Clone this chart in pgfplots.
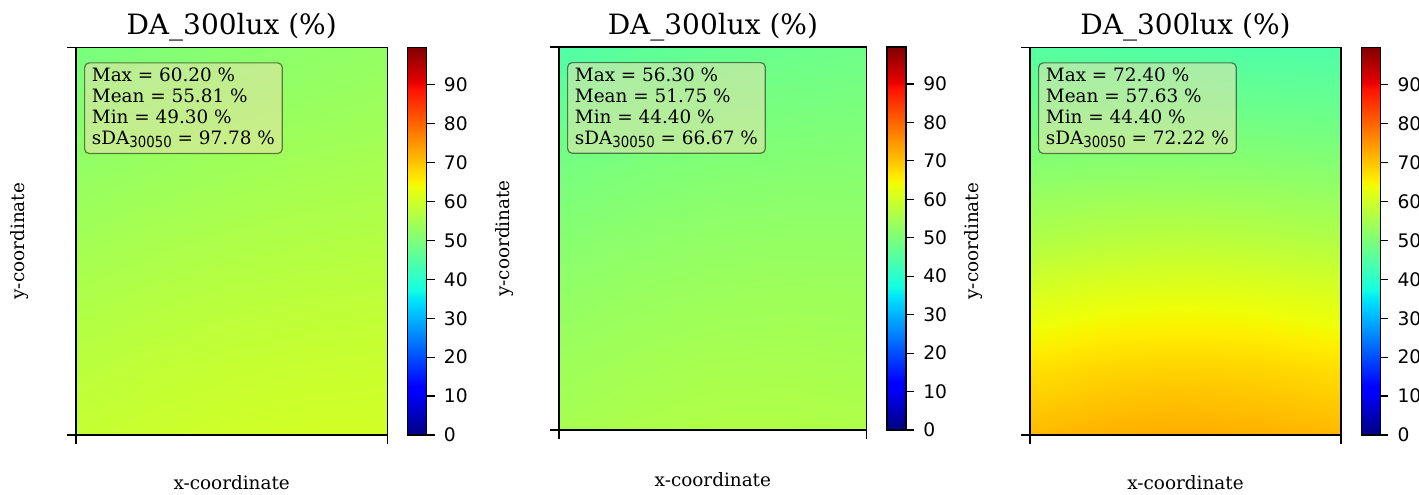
\documentclass[border=0pt]{standalone}
\usepackage{fontspec}
\setmainfont{DejaVu Serif}
\newfontfamily\dsans{DejaVu Sans}
\newfontfamily\dsub[FakeStretch=0.87]{DejaVu Sans}
\usepackage{pgfplots}
\pgfplotsset{compat=1.18}
\definecolor{wheat}{RGB}{245,222,179}

\pgfplotsset{
  colormap={mjet}{rgb(0pt)=(0,0,0.5) rgb(11pt)=(0,0,1) rgb(12.5pt)=(0,0,1) rgb(34pt)=(0,0.86,1) rgb(35pt)=(0,0.9,0.968) rgb(37.5pt)=(0.0806,1,0.887) rgb(64pt)=(0.935,1,0.032) rgb(65pt)=(0.968,0.963,0) rgb(66pt)=(1,0.926,0) rgb(89pt)=(1,0.074,0) rgb(91pt)=(0.909,0,0) rgb(100pt)=(0.5,0,0)},
  every axis title shift=0pt,
  hm/.style n args={5}{
    scale only axis, width=#1, height=#2,
    xmin=0, xmax=4, ymin=0, ymax=6,
    xtick={0,4}, ytick={0,6}, xticklabels={}, yticklabels={},
    tick align=outside, tick pos=left, major tick length=6.5pt,
    every tick/.style={black, line width=0.9pt},
    axis line style={line width=0.9pt},
    colormap name=mjet, point meta min=0, point meta max=99.6,
    axis on top,
    title={DA\_300lux (\%)},
    title style={at={(axis description cs:0.5,#5)}, anchor=base, font=\fontsize{21}{25}\selectfont},
    xlabel={x-coordinate}, ylabel={y-coordinate},
    label style={font=\fontsize{13.8}{16}\selectfont},
    xlabel style={at={(axis description cs:0.5,#4)}, anchor=center},
    ylabel style={at={(axis description cs:#3,0.5)}, anchor=center},
    colorbar,
    colorbar style={
      at={(parent axis.north east)}, anchor=north west, xshift=6.6pt,
      scale only axis, width=14.25pt, height=#2,
      ytick={0,10,...,90}, ytick pos=right, yticklabel pos=right,
      tick align=outside, major tick length=6pt,
      every tick/.style={black, line width=0.9pt},
      axis line style={line width=0.9pt},
      /pgf/number format/assume math mode=true,
      yticklabel style={font=\dsans\fontsize{14}{16}\selectfont, xshift=3.5pt},
    },
  },
}
\tikzset{
  mybox/.style={anchor=north west, fill=wheat, fill opacity=0.5, draw=black, draw opacity=0.5,
    text opacity=1, rounded corners=3.5pt, line width=0.9pt, inner xsep=5.5pt, inner ysep=4pt,
    align=left, font=\fontsize{13.8}{15.7}\selectfont, xshift=6pt, yshift=-11.25pt},
}
\newcommand{\sub}[1]{{\dsub\fontsize{11.5}{13}\selectfont\raisebox{-2.5pt}{#1}}}

\begin{document}
\begin{tikzpicture}[x=1pt,y=1pt]
\fill[white] (0,0) rectangle (1064.25,370.5);

% Panel 1
\begin{axis}[hm={233.5pt}{290.8pt}{-0.18}{-0.124}{1.0317}, at={(57pt,44.25pt)}, anchor=south west]
\addplot[surf, shader=interp, mesh/cols=5, point meta=\thisrow{z}] table[x=x,y=y] {
x y z
0 0 58.6
1 0 59.4
2 0 59.9
3 0 60.2
4 0 60.2
0 1 57.4
1 1 58.2
2 1 58.8
3 1 59.1
4 1 59.3
0 2 56.0
1 2 56.8
2 2 57.4
3 2 57.8
4 2 58.0
0 3 54.5
1 3 55.3
2 3 55.9
3 3 56.3
4 3 56.6
0 4 52.9
1 4 53.7
2 4 54.4
3 4 54.9
4 4 55.3
0 5 51.2
1 5 52.1
2 5 52.8
3 5 53.4
4 5 53.9
0 6 49.3
1 6 50.4
2 6 51.3
3 6 52.1
4 6 52.7
};
\node[mybox] at (rel axis cs:0,1) {Max = 60.20 \%\\Mean = 55.81 \%\\Min = 49.30 \%\\sDA\sub{30050} = 97.78 \%};
\end{axis}

% Panel 2
\begin{axis}[hm={230.8pt}{287.25pt}{-0.1755}{-0.1305}{1.033}, at={(419.25pt,48pt)}, anchor=south west]
\addplot[surf, shader=interp, mesh/cols=5, point meta=\thisrow{z}] table[x=x,y=y] {
x y z
0 0 55.0
1 0 55.8
2 0 56.3
3 0 56.3
4 0 56.0
0 1 53.9
1 1 54.7
2 1 55.2
3 1 55.3
4 1 55.1
0 2 52.6
1 2 53.4
2 2 53.9
3 2 54.1
4 2 54.0
0 3 51.1
1 3 51.9
2 3 52.5
3 3 52.7
4 3 52.7
0 4 49.4
1 4 50.3
2 4 50.9
3 4 51.2
4 4 51.3
0 5 47.3
1 5 48.4
2 5 49.1
3 5 49.6
4 5 49.8
0 6 44.4
1 6 46.0
2 6 47.1
3 6 47.8
4 6 48.2
};
\node[mybox] at (rel axis cs:0,1) {Max = 56.30 \%\\Mean = 51.75 \%\\Min = 44.40 \%\\sDA\sub{30050} = 66.67 \%};
\end{axis}

% Panel 3
\begin{axis}[hm={233.25pt}{290.8pt}{-0.183}{-0.124}{1.0317}, at={(772.5pt,44.25pt)}, anchor=south west]
\addplot[surf, shader=interp, mesh/cols=5, point meta=\thisrow{z}] table[x=x,y=y] {
x y z
0 0 71.0
1 0 72.0
2 0 72.4
3 0 72.0
4 0 71.2
0 1 67.0
1 1 68.2
2 1 68.6
3 1 68.2
4 1 67.2
0 2 62.0
1 2 63.2
2 2 63.6
3 2 63.2
4 2 62.2
0 3 56.2
1 3 57.2
2 3 57.6
3 3 57.2
4 3 56.4
0 4 51.8
1 4 52.3
2 4 52.4
3 4 52.2
4 4 51.8
0 5 48.2
1 5 48.3
2 5 48.2
3 5 48.0
4 5 47.8
0 6 45.2
1 6 45.0
2 6 44.8
3 6 44.5
4 6 44.4
};
\node[mybox] at (rel axis cs:0,1) {Max = 72.40 \%\\Mean = 57.63 \%\\Min = 44.40 \%\\sDA\sub{30050} = 72.22 \%};
\end{axis}

\pgfresetboundingbox
\useasboundingbox (0,0) rectangle (1064.25,370.5);
\end{tikzpicture}
\end{document}
